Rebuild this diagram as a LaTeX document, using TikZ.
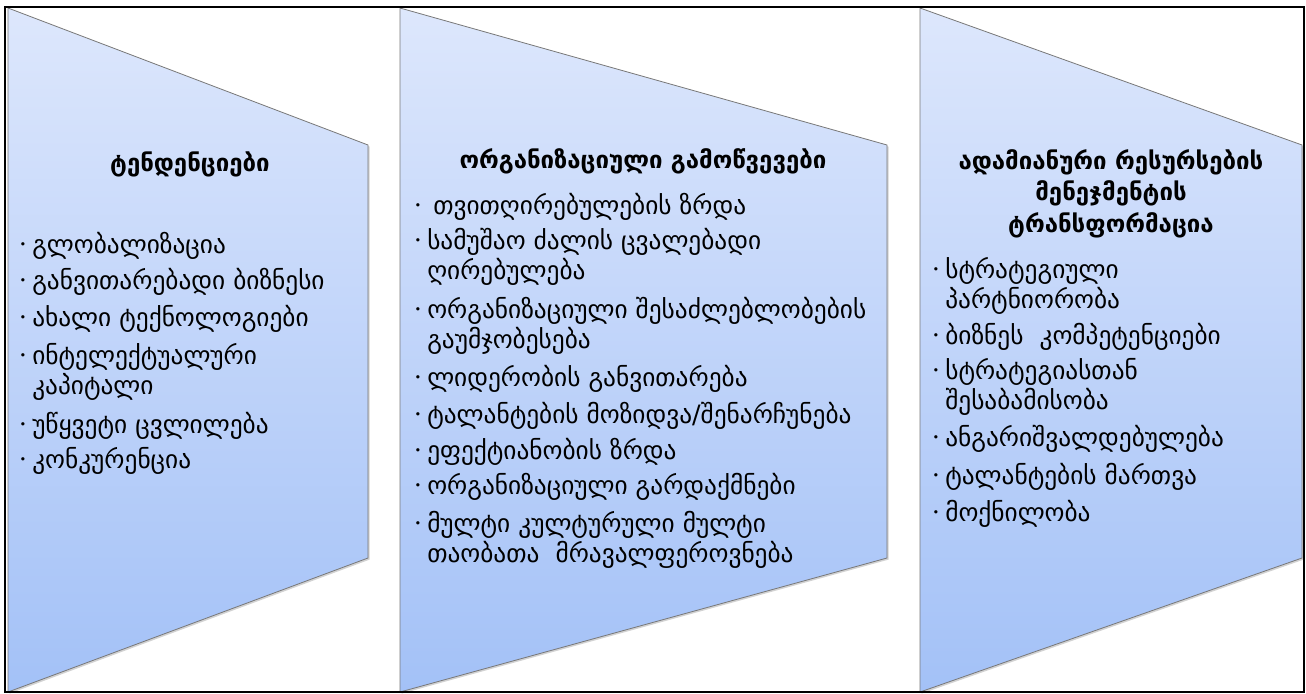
\documentclass[tikz,border=0pt]{standalone}
\usepackage{fontspec}
\setmainfont{DejaVu Sans}
\usetikzlibrary{shadows}
\definecolor{pTop}{RGB}{221,231,252}
\definecolor{pBot}{RGB}{163,193,247}
\definecolor{pEdge}{RGB}{120,120,120}
\newcommand\bl{\llap{\raisebox{3.6pt}{\fontsize{8.5}{8.5}\selectfont •}\hspace{4.5pt}}}
\begin{document}
\begin{tikzpicture}[x=0.75pt,y=-0.75pt,
  panel/.style={draw=pEdge, line width=0.6pt, top color=pTop, bottom color=pBot,
    drop shadow={shadow xshift=1.2pt, shadow yshift=-1.2pt, opacity=0.35}},
  ttl/.style={font=\fontsize{18}{23.5}\selectfont\bfseries, align=center, inner sep=0pt, anchor=base},
  itm/.style={font=\fontsize{19}{22.5}\selectfont, align=left, anchor=base west, inner sep=0pt}]
\useasboundingbox (0,0) rectangle (1306,693);
\fill[white] (0,0) rectangle (1306,693);
% panels
\path[panel] (8,8) coordinate (p1a) -- (368,145) coordinate (p1b) -- (368,558) coordinate (p1c) -- (8,692) coordinate (p1d) -- cycle;
\path[panel] (400,8) coordinate (p2a) -- (887,145) coordinate (p2b) -- (887,558) coordinate (p2c) -- (400,692) coordinate (p2d) -- cycle;
\path[panel] (920,8) coordinate (p3a) -- (1302,145) coordinate (p3b) -- (1302,558) coordinate (p3c) -- (920,692) coordinate (p3d) -- cycle;
% panel 1 (anchor = baseline of the last line)
\node[ttl] (t1) at (190,171) {ტენდენციები};
\node[itm] (a1) at (32,253) {\bl გლობალიზაცია};
\node[itm] (a2) at (32,289) {\bl განვითარებადი ბიზნესი};
\node[itm] (a3) at (32,326) {\bl ახალი ტექნოლოგიები};
\node[itm] (a4) at (32,394) {\bl ინტელექტუალური\\კაპიტალი};
\node[itm] (a5) at (32,433) {\bl უწყვეტი ცვლილება};
\node[itm] (a6) at (32,468) {\bl კონკურენცია};
% panel 2
\node[ttl] (t2) at (643,168) {ორგანიზაციული გამოწვევები};
\node[itm] (b1) at (427,214) {\bl\hspace{4.5pt}თვითღირებულების ზრდა};
\node[itm] (b2) at (427,279) {\bl სამუშაო ძალის ცვალებადი\\ღირებულება};
\node[itm] (b3) at (427,348) {\bl ორგანიზაციული შესაძლებლობების\\გაუმჯობესება};
\node[itm] (b4) at (427,386) {\bl ლიდერობის განვითარება};
\node[itm] (b5) at (427,423) {\bl ტალანტების მოზიდვა/შენარჩუნება};
\node[itm] (b6) at (427,459) {\bl ეფექტიანობის ზრდა};
\node[itm] (b7) at (427,494) {\bl ორგანიზაციული გარდაქმნები};
\node[itm] (b8) at (427,562) {\bl მულტი კულტურული მულტი\\თაობათა~~მრავალფეროვნება};
% panel 3
\node[ttl] (t3) at (1111,232) {ადამიანური რესურსების\\მენეჯმენტის\\ტრანსფორმაცია};
\node[itm] (c1) at (945,308) {\bl სტრატეგიული\\პარტნიორობა};
\node[itm] (c2) at (945,344) {\bl ბიზნეს~~კომპეტენციები};
\node[itm] (c3) at (945,409) {\bl სტრატეგიასთან\\შესაბამისობა};
\node[itm] (c4) at (945,446) {\bl ანგარიშვალდებულება};
\node[itm] (c5) at (945,484) {\bl ტალანტების მართვა};
\node[itm] (c6) at (945,521) {\bl მოქნილობა};
% frame
\draw[black, line width=1.6pt] (5,7) rectangle (1304,692);
\end{tikzpicture}
\end{document}
